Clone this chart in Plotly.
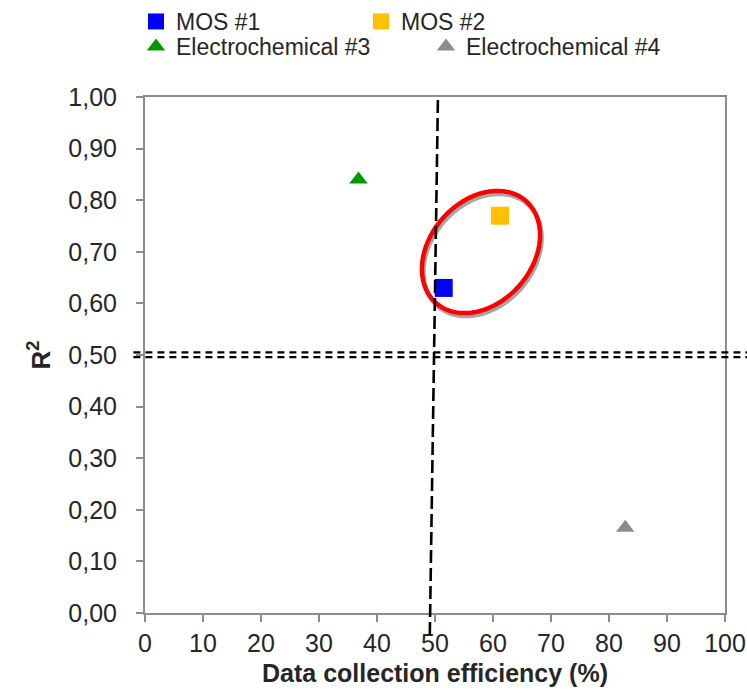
import numpy as np
import plotly.graph_objects as go

# Data
series_names = ["MOS #1", "MOS #2", "Electrochemical #3", "Electrochemical #4"]
efficiency = [51.5, 61.2, 36.8, 82.8]
r2_values = [0.63, 0.77, 0.84, 0.165]
colors = ["#0000FF", "#FFC000", "#009900", "#8C8C8C"]
symbols = ["square", "square", "triangle-up", "triangle-up"]
marker_sizes = [18, 18, 16, 16]
legend_ids = ["legend", "legend", "legend2", "legend2"]

x_ticks = list(range(0, 101, 10))
y_ticks = [round(i * 0.1, 1) for i in range(11)]

W, H = 747, 694
ml, mr, mt, mb = 145, 22, 97, 81
pw, ph = W - ml - mr, H - mt - mb
FONT = "Liberation Sans, Arial, sans-serif"
TXT = "#262626"

fig = go.Figure()
for name, xv, yv, c, s, ms, lg in zip(series_names, efficiency, r2_values, colors,
                                       symbols, marker_sizes, legend_ids):
    fig.add_trace(go.Scatter(
        x=[xv], y=[yv], mode="markers", name=name, legend=lg,
        marker=dict(color=c, symbol=s, size=ms, line=dict(width=0)),
    ))

# Ellipse highlight (shape defined in pixel units, converted to data units)
cx, cy = 57.93, 0.6996
a_px, b_px, theta = 68, 51, np.deg2rad(48.5)
t = np.linspace(0, 2 * np.pi, 140)
ex = a_px * np.cos(t) * np.cos(theta) - b_px * np.sin(t) * np.sin(theta)
ey = a_px * np.cos(t) * np.sin(theta) + b_px * np.sin(t) * np.cos(theta)
sx = 100 / pw
sy = 1.0 / ph


def ell_path(dx_px=0, dy_px=0):
    xs = cx + (ex + dx_px) * sx
    ys = cy + (ey - dy_px) * sy
    return "M " + " L ".join(f"{x:.4f},{y:.5f}" for x, y in zip(xs, ys)) + " Z"


fig.add_shape(type="path", path=ell_path(1.5, 3), xref="x", yref="y",
              line=dict(color="#A6A6A6", width=4.5))
fig.add_shape(type="path", path=ell_path(0, 0), xref="x", yref="y",
              line=dict(color="#FF0000", width=4.5))

# Threshold lines
for yy in (0.496, 0.505):
    fig.add_shape(type="line", xref="paper", yref="y", x0=-0.02, x1=1.05, y0=yy, y1=yy,
                  line=dict(color="black", width=2.2, dash="7px,5px"))
fig.add_shape(type="line", xref="x", yref="paper", x0=50.5, x1=49.1, y0=0.994, y1=-0.045,
              line=dict(color="black", width=2.6, dash="13px,5px"))

axis_common = dict(
    showgrid=False, zeroline=False, showline=True, linecolor="#8C8C8C", linewidth=2,
    mirror=True, ticks="outside", tickcolor="#8C8C8C", ticklen=7, tickwidth=1.5,
    tickfont=dict(family=FONT, size=25, color=TXT), automargin=False,
)

legend_common = dict(
    orientation="h", xanchor="left", yanchor="top",
    xref="container", yref="container",
    entrywidthmode="pixels", itemwidth=30, tracegroupgap=0,
    bgcolor="rgba(0,0,0,0)",
    font=dict(family=FONT, size=23, color=TXT),
)

fig.update_layout(
    width=W, height=H,
    margin=dict(l=ml, r=mr, t=mt, b=mb, autoexpand=False),
    plot_bgcolor="white", paper_bgcolor="white",
    separators=", ",
    showlegend=True,
    legend=dict(**legend_common, x=136 / W, y=1.0, entrywidth=180),
    legend2=dict(**legend_common, x=136 / W, y=1.0 - 25 / H, entrywidth=245),
    xaxis=dict(range=[0, 100], tickvals=x_ticks, **axis_common,
               title=dict(text="<b>Data collection efficiency (%)</b>", standoff=8,
                          font=dict(family=FONT, size=25, color=TXT))),
    yaxis=dict(range=[0, 1], tickvals=y_ticks, tickformat=".2f", **axis_common,
               ticklabelstandoff=14,
               title=dict(text="<b>R<sup>2</sup></b>", standoff=10,
                          font=dict(family=FONT, size=26, color=TXT))),
)

fig.write_html("out.html")
